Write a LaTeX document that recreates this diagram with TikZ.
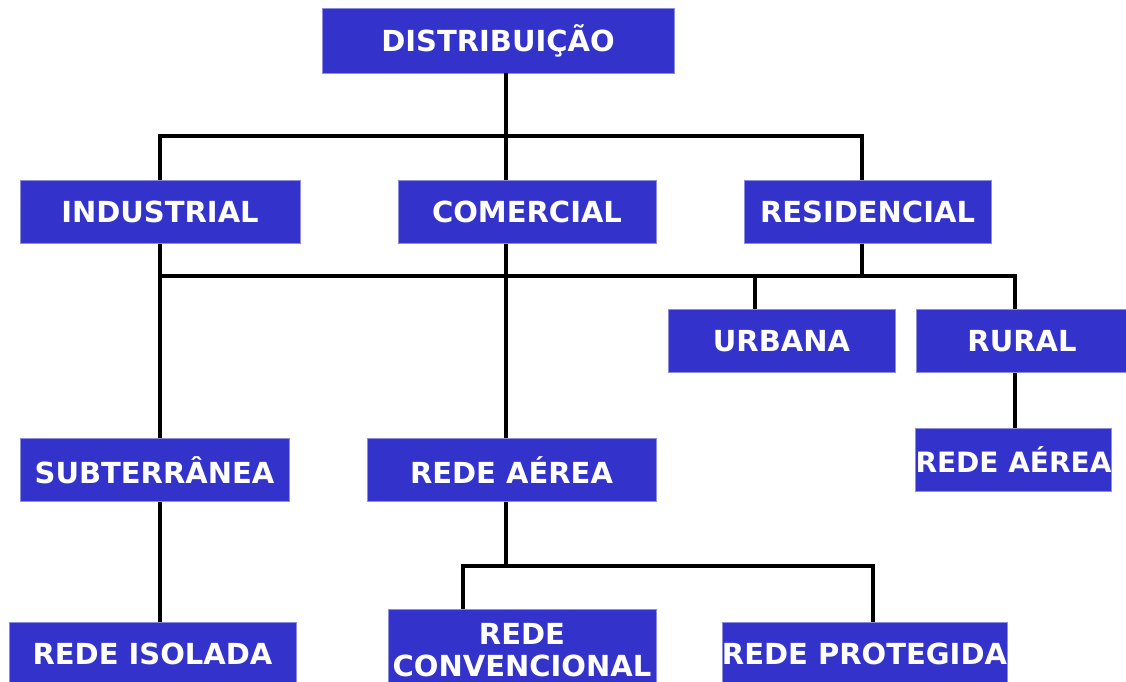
\documentclass[tikz,border=0pt]{standalone}
\usepackage{fontspec}
\setmainfont{DejaVu Sans}
\definecolor{boxblue}{HTML}{3333CC}
\definecolor{boxedge}{HTML}{8C8CE0}
\begin{document}
\begin{tikzpicture}[x=1pt,y=-1pt,
  box/.style={fill=boxblue, draw=boxedge, line width=0.8pt, text=white,
    font=\bfseries\fontsize{29}{32}\selectfont, inner sep=0pt, align=center},
  conn/.style={line width=3.2pt, black}]
\useasboundingbox (0,0) rectangle (1126,682);
% nodes
\node[box, minimum width=352pt, minimum height=65pt] (dist) at (498,40.5) {DISTRIBUIÇÃO};
\node[box, minimum width=280pt, minimum height=63pt] (ind) at (160,212) {INDUSTRIAL};
\node[box, minimum width=258pt, minimum height=63pt] (com) at (527,212) {COMERCIAL};
\node[box, minimum width=247pt, minimum height=63pt] (res) at (867.5,212) {RESIDENCIAL};
\node[box, minimum width=227pt, minimum height=63pt] (urb) at (781.5,341) {URBANA};
\node[box, minimum width=212pt, minimum height=63pt] (rur) at (1022,341) {RURAL};
\node[box, minimum width=195pt, minimum height=63pt, font=\bfseries\fontsize{28}{32}\selectfont] (ratwo) at (1013.5,460) {REDE AÉREA};
\node[box, minimum width=269pt, minimum height=63pt] (sub) at (154.5,470) {SUBTERRÂNEA};
\node[box, minimum width=289pt, minimum height=63pt] (raone) at (511.5,470) {REDE AÉREA};
\node[box, minimum width=287pt, minimum height=64pt] (iso) at (152.5,654) {REDE ISOLADA};
\node[box, minimum width=268pt, minimum height=81pt] (conv) at (522,650) {REDE\\CONVENCIONAL};
\node[box, minimum width=285pt, minimum height=64pt] (prot) at (864.5,654) {REDE PROTEGIDA};
% junction coordinates
\coordinate (aL) at (160,136);
\coordinate (aM) at (506,136);
\coordinate (aR) at (862,136);
\coordinate (bL) at (160,276);
\coordinate (bM) at (506,276);
\coordinate (bU) at (755,276);
\coordinate (bRes) at (862,276);
\coordinate (bR) at (1015,276);
\coordinate (cM) at (506,566);
\coordinate (cL) at (463,566);
\coordinate (cR) at (873,566);
% connectors
\draw[conn] (dist.south -| aM) -- (aM);
\draw[conn] (ind.north -| aL) |- (aR) -- (res.north -| aR);
\draw[conn] (aM) -- (com.north -| aM);
\draw[conn] (ind.south -| bL) -- (sub.north -| bL);
\draw[conn] (bL) -- (bR);
\draw[conn] (com.south -| bM) -- (raone.north -| bM);
\draw[conn] (res.south -| bRes) -- (bRes);
\draw[conn] (bU) -- (urb.north -| bU);
\draw[conn] (bL) -| (rur.north -| bR);
\draw[conn] (rur.south -| bR) -- (ratwo.north -| bR);
\draw[conn] (sub.south -| bL) -- (iso.north -| bL);
\draw[conn] (raone.south -| cM) -- (cM);
\draw[conn] (conv.north -| cL) |- (cR) -- (prot.north -| cR);
\end{tikzpicture}
\end{document}
